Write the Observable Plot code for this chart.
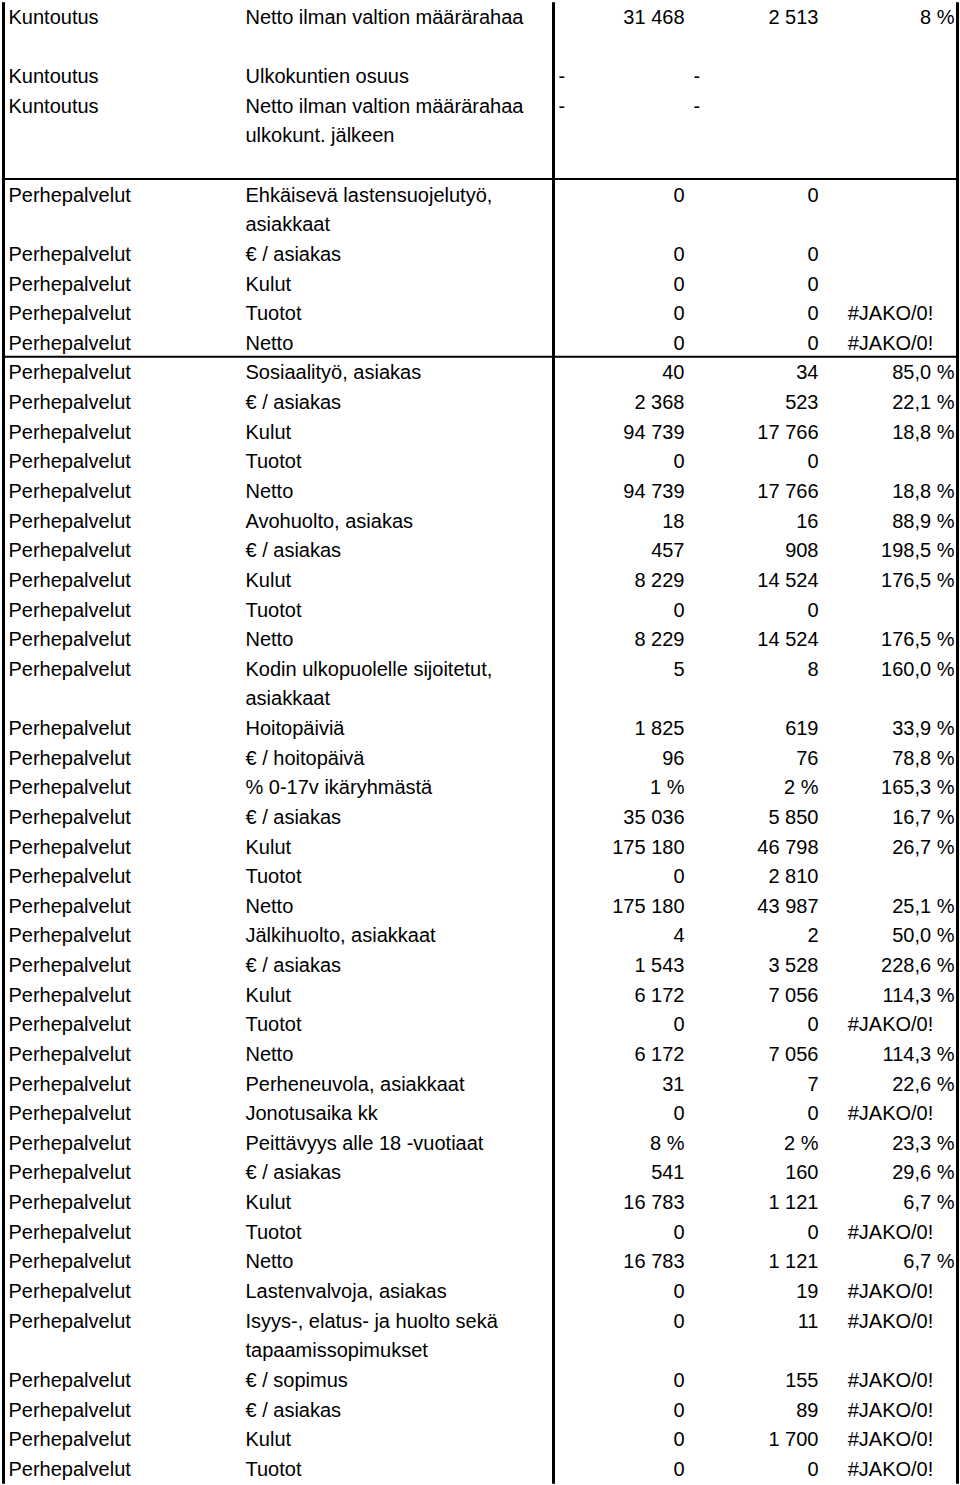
<!DOCTYPE html>
<html>
<head>
<meta charset="utf-8">
<script src="https://cdn.jsdelivr.net/npm/d3@7"></script>
<script src="https://cdn.jsdelivr.net/npm/@observablehq/plot@0.6"></script>
<style>
  html, body { margin: 0; padding: 0; background: #fff; }
  #chart svg { display: block; }
</style>
</head>
<body>
<div id="chart"></div>
<script>
// --- data: one entry per text line of the table ---
const yksikko = [
  "Kuntoutus", "", "Kuntoutus", "Kuntoutus", "", "",
  "Perhepalvelut", "", "Perhepalvelut", "Perhepalvelut", "Perhepalvelut", "Perhepalvelut",
  "Perhepalvelut", "Perhepalvelut", "Perhepalvelut", "Perhepalvelut", "Perhepalvelut",
  "Perhepalvelut", "Perhepalvelut", "Perhepalvelut", "Perhepalvelut", "Perhepalvelut",
  "Perhepalvelut", "", "Perhepalvelut", "Perhepalvelut", "Perhepalvelut", "Perhepalvelut",
  "Perhepalvelut", "Perhepalvelut", "Perhepalvelut",
  "Perhepalvelut", "Perhepalvelut", "Perhepalvelut", "Perhepalvelut", "Perhepalvelut",
  "Perhepalvelut", "Perhepalvelut", "Perhepalvelut", "Perhepalvelut", "Perhepalvelut",
  "Perhepalvelut", "Perhepalvelut",
  "Perhepalvelut", "Perhepalvelut", "", "Perhepalvelut", "Perhepalvelut", "Perhepalvelut",
  "Perhepalvelut"
];
const mittari = [
  "Netto ilman valtion määrärahaa", "", "Ulkokuntien osuus", "Netto ilman valtion määrärahaa",
  "ulkokunt. jälkeen", "",
  "Ehkäisevä lastensuojelutyö,", "asiakkaat", "€ / asiakas", "Kulut", "Tuotot", "Netto",
  "Sosiaalityö, asiakas", "€ / asiakas", "Kulut", "Tuotot", "Netto",
  "Avohuolto, asiakas", "€ / asiakas", "Kulut", "Tuotot", "Netto",
  "Kodin ulkopuolelle sijoitetut,", "asiakkaat", "Hoitopäiviä", "€ / hoitopäivä",
  "% 0-17v ikäryhmästä", "€ / asiakas", "Kulut", "Tuotot", "Netto",
  "Jälkihuolto, asiakkaat", "€ / asiakas", "Kulut", "Tuotot", "Netto",
  "Perheneuvola, asiakkaat", "Jonotusaika kk", "Peittävyys alle 18 -vuotiaat", "€ / asiakas",
  "Kulut", "Tuotot", "Netto",
  "Lastenvalvoja, asiakas", "Isyys-, elatus- ja huolto sekä", "tapaamissopimukset",
  "€ / sopimus", "€ / asiakas", "Kulut", "Tuotot"
];
const arvoA = [
  "31 468", "", "-", "-", "", "",
  "0", "", "0", "0", "0", "0",
  "40", "2 368", "94 739", "0", "94 739",
  "18", "457", "8 229", "0", "8 229",
  "5", "", "1 825", "96", "1 %", "35 036", "175 180", "0", "175 180",
  "4", "1 543", "6 172", "0", "6 172",
  "31", "0", "8 %", "541", "16 783", "0", "16 783",
  "0", "0", "", "0", "0", "0", "0"
];
const arvoB = [
  "2 513", "", "-", "-", "", "",
  "0", "", "0", "0", "0", "0",
  "34", "523", "17 766", "0", "17 766",
  "16", "908", "14 524", "0", "14 524",
  "8", "", "619", "76", "2 %", "5 850", "46 798", "2 810", "43 987",
  "2", "3 528", "7 056", "0", "7 056",
  "7", "0", "2 %", "160", "1 121", "0", "1 121",
  "19", "11", "", "155", "89", "1 700", "0"
];
const muutos = [
  "8 %", "", "", "", "", "",
  "", "", "", "", "#JAKO/0!", "#JAKO/0!",
  "85,0 %", "22,1 %", "18,8 %", "", "18,8 %",
  "88,9 %", "198,5 %", "176,5 %", "", "176,5 %",
  "160,0 %", "", "33,9 %", "78,8 %", "165,3 %", "16,7 %", "26,7 %", "", "25,1 %",
  "50,0 %", "228,6 %", "114,3 %", "#JAKO/0!", "114,3 %",
  "22,6 %", "#JAKO/0!", "23,3 %", "29,6 %", "6,7 %", "#JAKO/0!", "6,7 %",
  "#JAKO/0!", "#JAKO/0!", "", "#JAKO/0!", "#JAKO/0!", "#JAKO/0!", "#JAKO/0!"
];
const erottimet = [5.45, 11.45]; // horizontal rules after these lines

// --- layout (column anchors on an identity x scale) ---
const W = 960, H = 1485;
const col = {left: 3, c1: 8, c2: 245, mid: 553, dashA: 558, c3: 684, dashB: 693, c4: 818, c5mid: 890, c5: 954, right: 957};

const rows = yksikko.map((_, i) => ({i, a: yksikko[i], b: mittari[i], c: arvoA[i], d: arvoB[i], e: muutos[i]}));
const nonEmpty = k => rows.filter(r => r[k] !== "");

const font = {fontSize: 20, fill: "#000"};

const chart = Plot.plot({
  width: W, height: H,
  margin: 0,
  x: {type: "linear", domain: [0, W], range: [0, W], axis: null},
  y: {type: "linear", domain: [-0.5, 49.5], range: [2.2, 1483.7], axis: null},
  style: {fontFamily: "Arial, 'Liberation Sans', Helvetica, sans-serif", background: "#fff"},
  marks: [
    Plot.ruleY(erottimet, {y: d => d, x1: col.left, x2: col.right, stroke: "#000", strokeWidth: 2}),
    Plot.ruleX([col.left, col.mid, col.right], {x: d => d, y1: -0.5, y2: 49.5, stroke: "#000", strokeWidth: 3}),
    Plot.text(nonEmpty("a"), {x: () => col.c1, y: "i", text: "a", textAnchor: "start", ...font}),
    Plot.text(nonEmpty("b"), {x: () => col.c2, y: "i", text: "b", textAnchor: "start", ...font}),
    Plot.text(nonEmpty("c").filter(r => r.c !== "-"), {x: () => col.c3, y: "i", text: "c", textAnchor: "end", ...font}),
    Plot.text(nonEmpty("c").filter(r => r.c === "-"), {x: () => col.dashA, y: "i", text: "c", textAnchor: "start", ...font}),
    Plot.text(nonEmpty("d").filter(r => r.d !== "-"), {x: () => col.c4, y: "i", text: "d", textAnchor: "end", ...font}),
    Plot.text(nonEmpty("d").filter(r => r.d === "-"), {x: () => col.dashB, y: "i", text: "d", textAnchor: "start", ...font}),
    Plot.text(nonEmpty("e").filter(r => !r.e.startsWith("#")), {x: () => col.c5, y: "i", text: "e", textAnchor: "end", ...font}),
    Plot.text(nonEmpty("e").filter(r => r.e.startsWith("#")), {x: () => col.c5mid, y: "i", text: "e", textAnchor: "middle", ...font})
  ]
});
document.getElementById("chart").append(chart);
</script>
</body>
</html>
